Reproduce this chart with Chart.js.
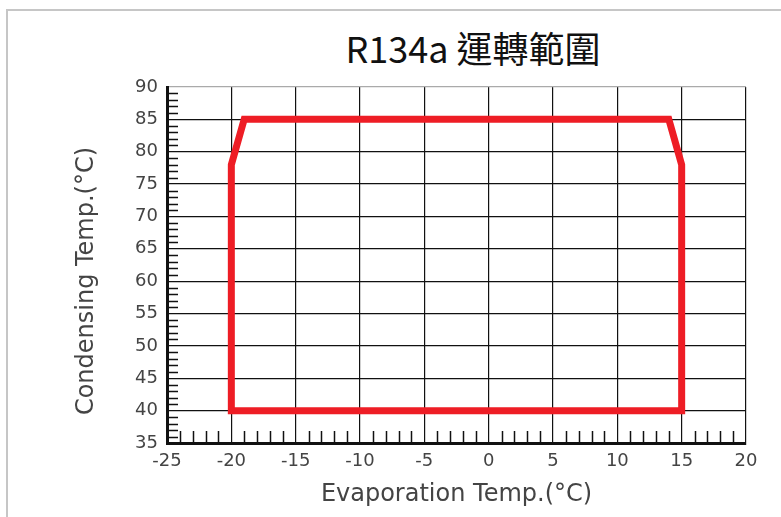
<!DOCTYPE html>
<html>
<head>
<meta charset="utf-8">
<script src="https://cdn.jsdelivr.net/npm/chart.js@4"></script>
<style>
  html, body { margin: 0; padding: 0; background: #fff; }
  #frame { position: absolute; left: 6px; top: 9px; width: 820px; height: 540px;
           border-top: 2px solid #c6c6c6; border-left: 2px solid #c6c6c6; }
  #title { position: absolute; left: 273px; top: 25px; width: 400px; text-align: center;
           font-family: "Noto Sans CJK TC", sans-serif; font-size: 36px; font-weight: 400;
           color: #111; line-height: 44px; }
  #chartCanvas { position: absolute; left: 0; top: 0; }
</style>
</head>
<body>
<div id="frame"></div>
<div id="title">R134a 運轉範圍</div>
<canvas id="chartCanvas" width="781" height="517"></canvas>
<script>
document.addEventListener('DOMContentLoaded', function () {
  // operating envelope outline (closed)
  const evapTemp = [-20, -20, -19, 14, 15, 15, -20];
  const condTemp = [40, 78, 85, 85, 78, 40, 40];

  const xMin = -25, xMax = 20;
  const yMin = 35, yMax = 90;
  const xTitle = 'Evaporation Temp.(°C)';
  const yTitle = 'Condensing Temp.(°C)';

  const points = evapTemp.map((x, i) => ({ x: x, y: condTemp[i] }));
  const fontFamily = '"DejaVu Sans", Arial, sans-serif';

  // small ticks every 1 degree, drawn inside the plot
  const minorTicks = {
    id: 'minorTicks',
    beforeDatasetsDraw(chart) {
      const { ctx, chartArea, scales } = chart;
      ctx.save();
      ctx.strokeStyle = '#111';
      ctx.lineWidth = 1.5;
      ctx.beginPath();
      for (let v = yMin + 1; v < yMax; v++) {
        if (v % 5 === 0) continue;
        const y = Math.round(scales.y.getPixelForValue(v)) + 0.5;
        ctx.moveTo(chartArea.left, y);
        ctx.lineTo(chartArea.left + 11, y);
      }
      for (let v = xMin + 1; v < xMax; v++) {
        if (v % 5 === 0) continue;
        const x = Math.round(scales.x.getPixelForValue(v)) + 0.5;
        ctx.moveTo(x, chartArea.bottom);
        ctx.lineTo(x, chartArea.bottom - 12);
      }
      ctx.stroke();
      ctx.restore();
    }
  };

  const axisTitles = {
    id: 'axisTitles',
    afterDraw(chart) {
      const { ctx, chartArea } = chart;
      ctx.save();
      ctx.fillStyle = '#444';
      ctx.font = '24px ' + fontFamily;
      ctx.textAlign = 'center';
      ctx.textBaseline = 'middle';
      ctx.fillText(xTitle, (chartArea.left + chartArea.right) / 2, 495);
      ctx.translate(87, 281);
      ctx.rotate(-Math.PI / 2);
      ctx.fillText(yTitle, 0, 0);
      ctx.restore();
    }
  };

  const ctx = document.getElementById('chartCanvas').getContext('2d');
  new Chart(ctx, {
    type: 'scatter',
    data: {
      datasets: [{
        data: points,
        showLine: true,
        borderColor: '#ee1d25',
        borderWidth: 7,
        borderJoinStyle: 'miter',
        borderCapStyle: 'square',
        pointRadius: 0,
        pointHoverRadius: 0,
        fill: false
      }]
    },
    options: {
      responsive: false,
      animation: false,
      devicePixelRatio: 1,
      layout: { padding: { left: 0, top: 87, right: 35, bottom: 0 } },
      plugins: { legend: { display: false }, tooltip: { enabled: false } },
      scales: {
        x: {
          type: 'linear',
          min: xMin,
          max: xMax,
          afterFit(scale) { scale.height = 74; },
          border: { display: true, width: 3, color: '#111' },
          grid: {
            drawTicks: false,
            lineWidth: 1.2,
            color: c => (c.tick && c.tick.value % 5 === 0) ? '#111' : 'transparent'
          },
          ticks: {
            stepSize: 1,
            autoSkip: false,
            maxRotation: 0,
            padding: 8,
            color: '#444',
            font: { family: fontFamily, size: 18 },
            callback: v => (v % 5 === 0 ? String(v) : '')
          }
        },
        y: {
          type: 'linear',
          min: yMin,
          max: yMax,
          afterFit(scale) { scale.width = 167; },
          border: { display: true, width: 3, color: '#111' },
          grid: {
            drawTicks: false,
            lineWidth: 1.2,
            color: c => {
              if (!c.tick || c.tick.value % 5 !== 0) return 'transparent';
              return c.tick.value === yMax ? '#aaa' : '#111';
            }
          },
          ticks: {
            stepSize: 1,
            autoSkip: false,
            padding: 9,
            color: '#444',
            font: { family: fontFamily, size: 18 },
            callback: v => (v % 5 === 0 ? String(v) : '')
          }
        }
      }
    },
    plugins: [minorTicks, axisTitles]
  });
});
</script>
</body>
</html>
